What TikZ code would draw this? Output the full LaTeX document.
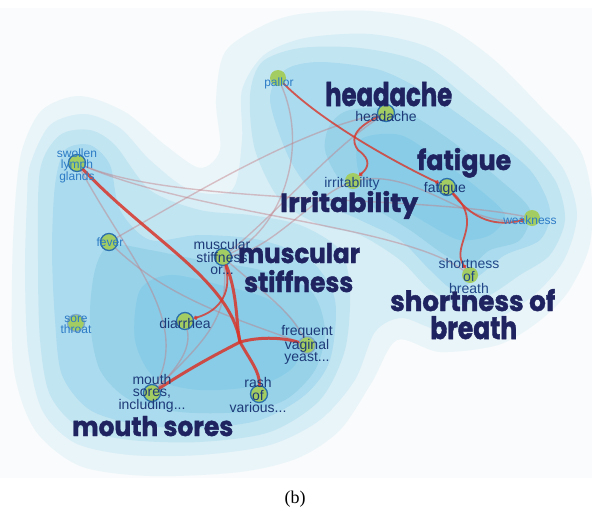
\documentclass[tikz,border=0pt]{standalone}
\usepackage{fontspec}
\usepackage{graphicx}
\usetikzlibrary{arrows.meta}
\newfontfamily\lblfont{Liberation Sans}
\newfontfamily\tagfont{Poppins}[BoldFeatures={FakeBold=1.6}]
\newfontfamily\capfont{Liberation Serif}
\definecolor{bgpage}{HTML}{F9FBFC}
\definecolor{lvlA}{HTML}{EAF5F9}
\definecolor{lvlB}{HTML}{D8EEF6}
\definecolor{lvlC}{HTML}{C2E5F2}
\definecolor{lvlD}{HTML}{ABDBEE}
\definecolor{lvlE}{HTML}{97D2E9}
\definecolor{lvlF}{HTML}{88CCE7}
\definecolor{nodegreen}{HTML}{A3CD63}
\definecolor{ringblue}{HTML}{2A6FAE}
\definecolor{inkdark}{HTML}{1E3A78}
\definecolor{inklight}{HTML}{2C7BC6}
\definecolor{tagnavy}{HTML}{1F2360}
\definecolor{edgered}{HTML}{D8352A}
\definecolor{edgefaint}{HTML}{C27C84}
\newcommand{\bigtag}[3]{\resizebox{#1}{#2}{\tagfont\bfseries #3}}

\begin{document}
\begin{tikzpicture}[x=1pt,y=-1pt,
  dot/.style={circle,fill=nodegreen,minimum size=16pt,inner sep=0pt},
  dotring/.style={dot,draw=ringblue,line width=1.3pt,minimum size=17pt},
  lbldark/.style={text=inkdark,align=center,inner sep=0pt,font=\lblfont\fontsize{14}{12.5}\selectfont},
  lbllight/.style={text=inklight,align=center,inner sep=0pt,font=\lblfont\fontsize{12}{11}\selectfont},
  tag/.style={text=tagnavy,anchor=base west,inner sep=0pt},
  link/.style={draw=edgered,line width=3pt,opacity=.85,line cap=round},
  linkmid/.style={draw=edgered,line width=1.8pt,opacity=.8,line cap=round,
    -{Circle[length=4pt]}},
  linkfaint/.style={draw=edgefaint,line width=1.4pt,opacity=.45,line cap=round}]
\useasboundingbox (0,0) rectangle (592,509);
\fill[white] (0,0) rectangle (592,509);
\fill[bgpage] (0,8) rectangle (592,478);
% ---- density levels ----
\fill[lvlA] plot[smooth cycle] coordinates {(22,150) (42,110) (80,96) (125,112) (165,145)
  (200,168) (220,150) (216,100) (225,52) (262,26) (300,14) (370,11) (440,24) (492,58)
  (542,108) (580,150) (592,200) (589,248) (568,292) (538,322) (498,345) (440,352)
  (397,340) (372,382) (340,430) (298,458) (240,472) (150,476) (80,466) (35,430)
  (14,370) (12,280) (15,205)};
\fill[lvlB] plot[smooth cycle] coordinates {(30,165) (50,125) (85,114) (120,128) (150,160)
  (190,190) (232,190) (242,140) (242,90) (264,55) (305,38) (370,34) (430,48) (480,85)
  (530,130) (564,170) (577,215) (564,260) (534,295) (490,322) (440,330) (402,318)
  (375,332) (355,380) (320,420) (270,445) (200,455) (130,455) (75,443) (42,410)
  (28,350) (25,270) (27,200)};
\fill[lvlC] plot[smooth cycle] coordinates {(40,170) (60,135) (90,130) (115,145) (150,190)
  (200,210) (250,215) (300,225) (340,250) (350,290) (345,350) (320,400) (270,432)
  (200,442) (130,440) (80,428) (50,395) (40,340) (38,260)};
\fill[lvlC] plot[smooth cycle] coordinates {(250,95) (262,62) (300,48) (360,48) (420,62)
  (470,100) (520,140) (555,180) (565,220) (550,255) (520,275) (490,295) (460,305)
  (430,290) (400,260) (360,235) (320,225) (280,200) (255,150)};
\fill[lvlD] plot[smooth cycle] coordinates {(55,185) (65,150) (90,145) (110,165) (120,210)
  (150,240) (200,235) (260,240) (310,260) (335,300) (330,360) (305,395) (260,420)
  (200,428) (140,425) (90,410) (62,375) (55,320) (52,250)};
\fill[lvlD] plot[smooth cycle] coordinates {(270,100) (285,70) (320,62) (380,70) (430,95)
  (480,130) (530,170) (550,210) (540,240) (505,255) (480,275) (455,290) (430,270)
  (400,240) (360,220) (320,200) (290,160)};
\fill[lvlE] plot[smooth cycle] coordinates {(95,270) (110,245) (150,250) (200,260) (260,270)
  (310,290) (325,330) (315,370) (285,400) (240,412) (180,412) (130,400) (100,370)
  (90,320)};
\fill[lvlE] plot[smooth cycle] coordinates {(330,125) (350,110) (400,110) (450,140) (500,180)
  (530,210) (520,240) (490,250) (470,265) (445,255) (410,230) (370,205) (340,180)
  (325,150)};
\fill[lvlF] plot[smooth cycle] coordinates {(140,290) (170,275) (220,285) (270,300) (300,330)
  (295,365) (260,385) (200,390) (155,378) (135,340)};
\fill[lvlF] plot[smooth cycle] coordinates {(360,140) (400,135) (440,160) (480,190) (505,215)
  (490,235) (460,240) (430,225) (390,200) (360,175)};
% ---- symptom nodes ----
\node[dot] (pallor) at (278,78) {};
\node[dotring] (headache) at (386,113) {};
\node[dot] (irrit) at (353,181) {};
\node[dotring] (fatigue) at (447,187) {};
\node[dot] (weak) at (532,218) {};
\node[dot] (short) at (470,275) {};
\node[dotring] (swollen) at (77,163) {};
\node[dotring] (fever) at (109,242) {};
\node[dotring,draw=ringblue!60] (sore) at (76,323) {};
\node[dotring] (diarr) at (185,321) {};
\node[dotring] (musc) at (223,257) {};
\node[dotring,draw=ringblue!60] (freq) at (307,345) {};
\node[dotring] (rash) at (259,394) {};
\node[dotring] (mouth) at (152,393) {};
\coordinate (junc) at (240,342);
% ---- faint links ----
\draw[linkfaint] (fever) .. controls (200,190) and (300,130) .. (headache);
\draw[linkfaint] (swollen) .. controls (200,215) and (400,225) .. (short);
\draw[linkfaint] (swollen) .. controls (180,205) and (420,195) .. (weak);
\draw[linkfaint] (fever) .. controls (170,300) and (240,320) .. (freq);
\draw[linkfaint] (swollen) .. controls (130,260) and (190,320) .. (mouth);
\draw[linkfaint] (diarr) .. controls (192,350) and (175,370) .. (mouth);
\draw[linkfaint] (irrit) .. controls (310,200) and (270,250) .. (musc);
\draw[linkfaint] (pallor) .. controls (310,150) and (280,230) .. (musc);
\draw[linkfaint] (musc) .. controls (280,210) and (330,150) .. (headache);
\draw[linkfaint] (irrit) .. controls (420,170) and (470,230) .. (weak);
\draw[linkfaint] (musc) .. controls (260,290) and (290,310) .. (freq);
\draw[linkfaint] (mouth) .. controls (200,345) and (230,320) .. (musc);
% ---- strong links ----
\draw[linkmid] (pallor) .. controls (320,120) and (390,160) .. (fatigue);
\draw[linkmid] (headache) .. controls (350,130) and (352,142) .. (358,150)
  .. controls (372,160) and (368,168) .. (irrit);
\draw[linkmid] (fatigue) .. controls (470,215) and (490,228) .. (weak);
\draw[linkmid] (fatigue) .. controls (485,225) and (450,245) .. (short);
\draw[linkmid] (musc) .. controls (232,290) and (222,310) .. (diarr);
\draw[link] (swollen) .. controls (150,240) and (230,280) .. (junc)
  .. controls (250,360) and (260,372) .. (rash);
\draw[link] (musc) .. controls (238,295) and (236,325) .. (junc);
\draw[link] (mouth) .. controls (200,362) and (225,350) .. (junc)
  .. controls (262,336) and (285,338) .. (freq);
% ---- small labels ----
\node[lbllight] at (279,83) {pallor};
\node[lbldark] at (386,116) {headache};
\node[lbldark,text=inkdark!80!inklight] at (352,184) {irritability};
\node[lbldark] at (445,189) {fatigue};
\node[lbllight] at (530,220) {weakness};
\node[lbldark,text=inkdark!80!inklight] at (469,276) {shortness\\of\\breath};
\node[lbllight] at (77,166) {swollen\\lymph\\glands};
\node[lbllight] at (110,242) {fever};
\node[lbllight] at (76,325) {sore\\throat};
\node[lbldark] at (185,323) {diarrhea};
\node[lbldark] at (222,257) {muscular\\stiffness\\or...};
\node[lbldark] at (307,345) {frequent\\vaginal\\yeast...};
\node[lbldark] at (258,395) {rash\\of\\various...};
\node[lbldark] at (152,393) {mouth\\sores,\\including...};
% ---- big cluster tags ----
\node[tag] at (325,106) {\bigtag{127pt}{24pt}{headache}};
\node[tag] at (417,170) {\bigtag{94pt}{22pt}{fatigue}};
\node[tag] at (280,212) {\bigtag{138pt}{21pt}{Irritability}};
\node[tag] at (238,263) {\bigtag{122pt}{20pt}{muscular}};
\node[tag] at (244,292) {\bigtag{109pt}{22pt}{stiffness}};
\node[tag] at (390,311) {\bigtag{165pt}{22pt}{shortness of}};
\node[tag] at (430,339) {\bigtag{87pt}{23pt}{breath}};
\node[tag] at (72,436) {\bigtag{161pt}{20pt}{mouth sores}};
% ---- caption ----
\node[font=\capfont\fontsize{18}{20}\selectfont] at (295,499) {(b)};
\end{tikzpicture}
\end{document}
